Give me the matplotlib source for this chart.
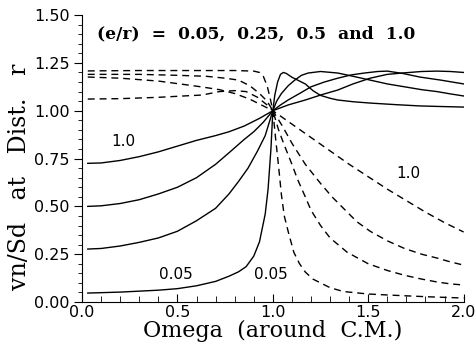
"""Rotor response plot: vn/Sd at distance r vs Omega, for e/r = 0.05, 0.25, 0.5, 1.0.

Solid = one side, dashed = the other side. Values read off the scanned figure.
"""

import matplotlib

matplotlib.use("Agg")
import matplotlib.pyplot as plt
from matplotlib.ticker import MultipleLocator

# --- solid curves (omega, value) ---
solid_100_w = [0.03, 0.1, 0.2, 0.3, 0.4, 0.5, 0.6, 0.7, 0.77, 0.85, 0.93, 1.0,
               1.08, 1.17, 1.26, 1.34, 1.42, 1.51, 1.6, 1.69, 1.78, 1.86, 1.93, 2.0]
solid_100_v = [0.725, 0.727, 0.74, 0.76, 0.785, 0.815, 0.845, 0.87, 0.89, 0.92, 0.96, 1.0,
               1.03, 1.056, 1.085, 1.108, 1.14, 1.17, 1.19, 1.198, 1.205, 1.207, 1.205, 1.2]

solid_050_w = [0.03, 0.1, 0.2, 0.3, 0.4, 0.5, 0.6, 0.7, 0.77, 0.85, 0.9, 0.95, 1.0,
               1.04, 1.08, 1.14, 1.2, 1.27, 1.34, 1.41, 1.48, 1.55, 1.6, 1.68, 1.77, 1.88, 2.0]
solid_050_v = [0.5, 0.503, 0.515, 0.535, 0.565, 0.6, 0.65, 0.72, 0.78, 0.85, 0.89, 0.94, 1.0,
               1.03, 1.056, 1.09, 1.125, 1.15, 1.17, 1.187, 1.197, 1.205, 1.207, 1.195, 1.176, 1.16, 1.14]

solid_025_w = [0.03, 0.1, 0.2, 0.3, 0.4, 0.5, 0.6, 0.7, 0.77, 0.82, 0.87, 0.92, 0.96, 1.0,
               1.02, 1.045, 1.08, 1.115, 1.15, 1.185, 1.25, 1.34, 1.42, 1.51, 1.6, 1.69, 1.78, 1.86, 1.93, 2.0]
solid_025_v = [0.277, 0.28, 0.293, 0.312, 0.335, 0.37, 0.425, 0.49, 0.565, 0.63, 0.7, 0.79, 0.87, 1.0,
               1.05, 1.09, 1.13, 1.16, 1.185, 1.197, 1.205, 1.197, 1.18, 1.16, 1.14, 1.125, 1.11, 1.1, 1.088, 1.077]

solid_005_w = [0.03, 0.2, 0.4, 0.5, 0.6, 0.7, 0.77, 0.82, 0.86, 0.9, 0.93, 0.96, 0.975, 0.99, 1.0,
               1.01, 1.025, 1.04, 1.055, 1.07, 1.1, 1.13, 1.17, 1.21, 1.25, 1.3, 1.34, 1.42, 1.51, 1.64, 1.77, 1.88, 2.0]
solid_005_v = [0.047, 0.052, 0.062, 0.07, 0.085, 0.108, 0.135, 0.158, 0.185, 0.24, 0.315, 0.46, 0.59, 0.8, 1.0,
               1.08, 1.15, 1.19, 1.2, 1.195, 1.175, 1.16, 1.14, 1.105, 1.08, 1.065, 1.056, 1.047, 1.04, 1.032, 1.025, 1.022, 1.019]

# --- dashed curves (omega, value) ---
dash_005_w = [0.03, 0.3, 0.6, 0.8, 0.9, 0.93, 0.95, 0.97, 0.985, 1.0,
              1.015, 1.03, 1.045, 1.06, 1.08, 1.11, 1.14, 1.17, 1.21, 1.25, 1.3, 1.37, 1.5, 1.6, 1.8, 2.0]
dash_005_v = [1.208, 1.21, 1.21, 1.21, 1.207, 1.2, 1.18, 1.13, 1.07, 1.0,
              0.85, 0.71, 0.56, 0.45, 0.37, 0.26, 0.2, 0.157, 0.12, 0.1, 0.075, 0.055, 0.042, 0.037, 0.028, 0.021]

dash_025_w = [0.03, 0.3, 0.5, 0.65, 0.75, 0.82, 0.88, 0.93, 0.97, 1.0,
              1.03, 1.06, 1.1, 1.13, 1.17, 1.2, 1.25, 1.3, 1.39, 1.5, 1.6, 1.69, 1.78, 1.86, 1.93, 2.0]
dash_025_v = [1.19, 1.19, 1.185, 1.18, 1.17, 1.16, 1.13, 1.09, 1.05, 1.0,
              0.9, 0.82, 0.72, 0.64, 0.55, 0.48, 0.4, 0.335, 0.26, 0.2, 0.165, 0.14, 0.12, 0.105, 0.095, 0.089]

dash_050_w = [0.03, 0.2, 0.4, 0.55, 0.63, 0.72, 0.8, 0.88, 0.94, 1.0,
              1.05, 1.1, 1.17, 1.25, 1.31, 1.37, 1.44, 1.51, 1.6, 1.69, 1.78, 1.86, 1.93, 2.0]
dash_050_v = [1.176, 1.17, 1.155, 1.135, 1.124, 1.11, 1.09, 1.06, 1.03, 1.0,
              0.92, 0.83, 0.72, 0.62, 0.55, 0.49, 0.42, 0.37, 0.32, 0.28, 0.25, 0.23, 0.21, 0.193]

dash_100_w = [0.03, 0.2, 0.4, 0.55, 0.63, 0.72, 0.8, 0.86, 0.92, 0.97, 1.0,
              1.1, 1.2, 1.3, 1.4, 1.5, 1.6, 1.7, 1.8, 1.9, 2.0]
dash_100_v = [1.061, 1.063, 1.07, 1.078, 1.082, 1.1, 1.105, 1.1, 1.07, 1.03, 1.0,
              0.93, 0.86, 0.79, 0.72, 0.655, 0.59, 0.53, 0.47, 0.415, 0.366]

# curve labels: (text, omega, value)
curve_labels = [("1.0", 0.215, 0.84), ("0.05", 0.49, 0.146),
                ("0.05", 0.99, 0.146), ("1.0", 1.71, 0.67)]

fig = plt.figure(figsize=(4.77, 3.5), dpi=100)
ax = fig.add_axes([0.172, 0.137, 0.800, 0.82])

solids = [(solid_100_w, solid_100_v), (solid_050_w, solid_050_v),
          (solid_025_w, solid_025_v), (solid_005_w, solid_005_v)]
dashes = [(dash_005_w, dash_005_v), (dash_025_w, dash_025_v),
          (dash_050_w, dash_050_v), (dash_100_w, dash_100_v)]
for w, v in solids:
    ax.plot(w, v, color="black", lw=1.0)
for w, v in dashes:
    ax.plot(w, v, color="black", lw=1.0, dashes=(5, 3.5))

for txt, x, y in curve_labels:
    ax.text(x, y, txt, ha="center", va="center", fontsize=11, family="DejaVu Sans")

ax.text(0.078, 1.40, "(e/r)  =  0.05,  0.25,  0.5  and  1.0", fontsize=12.3,
        fontweight="bold", family="DejaVu Serif", va="center", ha="left")

ax.set_xlim(0, 2.0)
ax.set_ylim(0, 1.5)
ax.xaxis.set_major_locator(MultipleLocator(0.5))
ax.xaxis.set_minor_locator(MultipleLocator(0.1))
ax.yaxis.set_major_locator(MultipleLocator(0.25))
ax.yaxis.set_minor_locator(MultipleLocator(0.05))
ax.xaxis.set_major_formatter(plt.FormatStrFormatter("%.1f"))
ax.yaxis.set_major_formatter(plt.FormatStrFormatter("%.2f"))

for s in ("top", "right"):
    ax.spines[s].set_visible(False)
ax.tick_params(axis="x", which="both", direction="in", labelsize=11.5, pad=2)
ax.tick_params(axis="x", which="major", length=6)
ax.tick_params(axis="x", which="minor", length=4)
ax.tick_params(axis="y", which="both", direction="out", labelsize=11.5, pad=3)
ax.tick_params(axis="y", which="major", length=6)
ax.tick_params(axis="y", which="minor", length=3)

ax.set_xlabel("Omega  (around  C.M.)", fontsize=16, family="DejaVu Serif", labelpad=0)
ax.set_ylabel("vn/Sd   at   Dist.   r", fontsize=17, family="DejaVu Serif", labelpad=2)
ax.yaxis.label.set_y(0.436)

fig.savefig("out.png", dpi=100)
